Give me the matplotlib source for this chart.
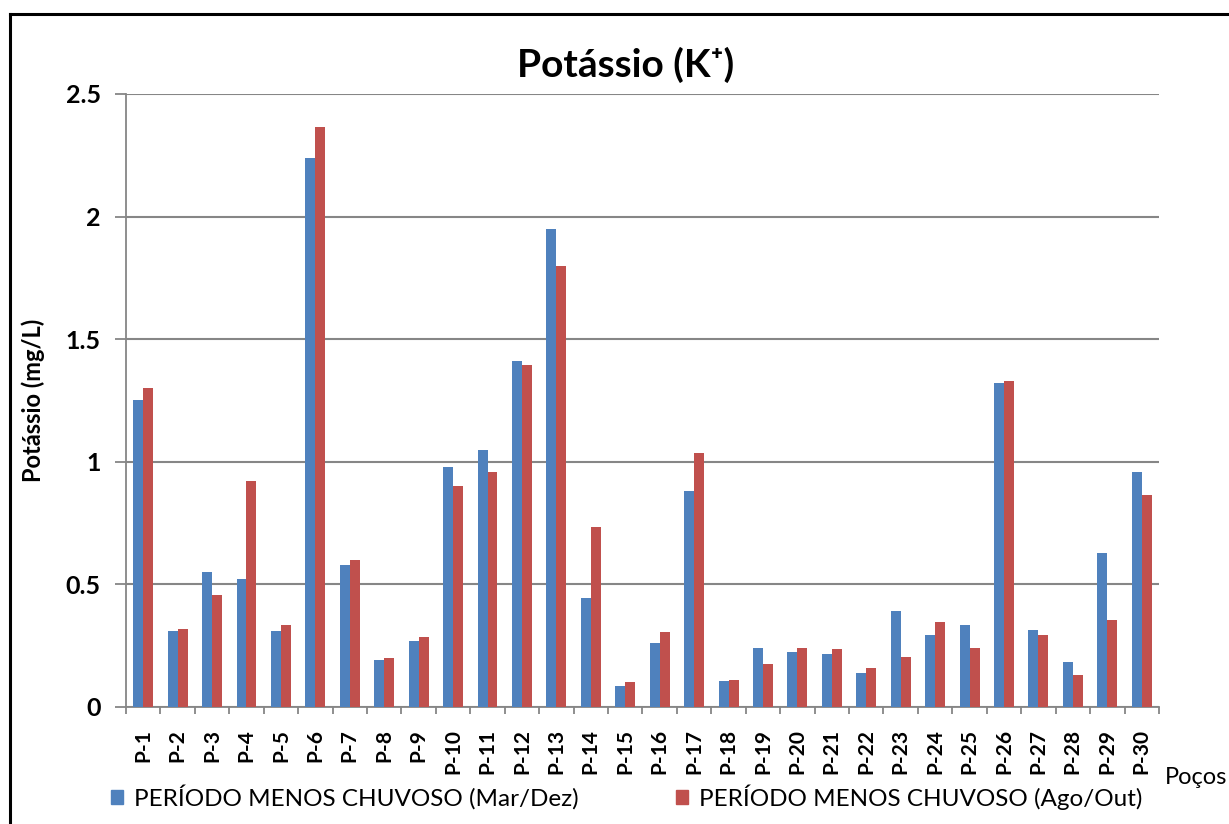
import numpy as np
import matplotlib.pyplot as plt
from matplotlib.lines import Line2D
from matplotlib.patches import Patch

plt.rcParams['font.family'] = ['Lato', 'DejaVu Sans']

# pocos P-1 .. P-30
pocos = ['P-%d' % i for i in range(1, 31)]

mar_dez = [1.25, 0.31, 0.55, 0.52, 0.31, 2.24, 0.58, 0.19, 0.27, 0.98,
           1.05, 1.41, 1.95, 0.445, 0.085, 0.26, 0.88, 0.105, 0.24, 0.225,
           0.215, 0.14, 0.39, 0.295, 0.335, 1.32, 0.315, 0.185, 0.63, 0.96]
ago_out = [1.30, 0.32, 0.455, 0.92, 0.335, 2.365, 0.60, 0.20, 0.285, 0.90,
           0.96, 1.395, 1.80, 0.735, 0.10, 0.305, 1.035, 0.11, 0.175, 0.24,
           0.235, 0.16, 0.205, 0.345, 0.24, 1.33, 0.295, 0.13, 0.355, 0.865]

leg1 = 'PERÍODO MENOS CHUVOSO (Mar/Dez)'
leg2 = 'PERÍODO MENOS CHUVOSO (Ago/Out)'

azul = '#4F81BD'
verm = '#C0504D'
cinza = '#868686'

fig = plt.figure(figsize=(12.29, 8.24), dpi=100)
ax = fig.add_axes([0.1025, 0.142, 0.8405, 0.744])

x = np.arange(len(pocos))
w = 0.29
ax.bar(x - w/2, mar_dez, w, color=azul, zorder=3)
ax.bar(x + w/2, ago_out, w, color=verm, zorder=3)

ax.set_xlim(-0.5, len(pocos) - 0.5)
ax.set_ylim(0, 2.5)
ax.set_yticks([0, 0.5, 1, 1.5, 2, 2.5])
ax.set_yticklabels(['0', '0.5', '1', '1.5', '2', '2.5'], fontsize=18, fontweight='bold')
ax.set_xticks(x)
ax.set_xticklabels(pocos, rotation=90, fontsize=15, fontweight='bold')
ax.set_xticks(np.arange(-0.5, len(pocos), 1), minor=True)
ax.tick_params(axis='x', which='major', length=0, pad=16)
ax.tick_params(axis='x', which='minor', length=5, width=1.3, color=cinza)
ax.tick_params(axis='y', length=8, width=1.3, color=cinza, pad=10)

ax.grid(axis='y', color=cinza, linewidth=1.5, zorder=0)
for s in ['top', 'right']:
    ax.spines[s].set_visible(False)
ax.spines['left'].set_color(cinza)
ax.spines['bottom'].set_color(cinza)
ax.spines['left'].set_linewidth(1.3)
ax.spines['bottom'].set_linewidth(1.3)

fig.text(0.509, 0.921, 'Potássio (K⁺)', ha='center', va='center', fontsize=28, fontweight='bold')
fig.text(0.027, 0.514, 'Potássio (mg/L)', ha='center', va='center', rotation=90,
         fontsize=17, fontweight='bold')
fig.text(0.948, 0.056, 'Poços', ha='left', va='center', fontsize=17)

handles = [Patch(color=azul), Patch(color=verm)]
fig.legend(handles, [leg1, leg2], loc='center', bbox_to_anchor=(0.51, 0.033), ncol=2,
           frameon=False, fontsize=17.5, handlelength=0.5, handleheight=0.5,
           handletextpad=0.45, columnspacing=4)

# moldura
fig.add_artist(Line2D([0.0081, 1.0], [0.983, 0.983], transform=fig.transFigure, color='black', linewidth=2.2))
fig.add_artist(Line2D([0.0081, 0.0081], [0.0, 0.983], transform=fig.transFigure, color='black', linewidth=2.2))

fig.savefig('out.png', dpi=100)
